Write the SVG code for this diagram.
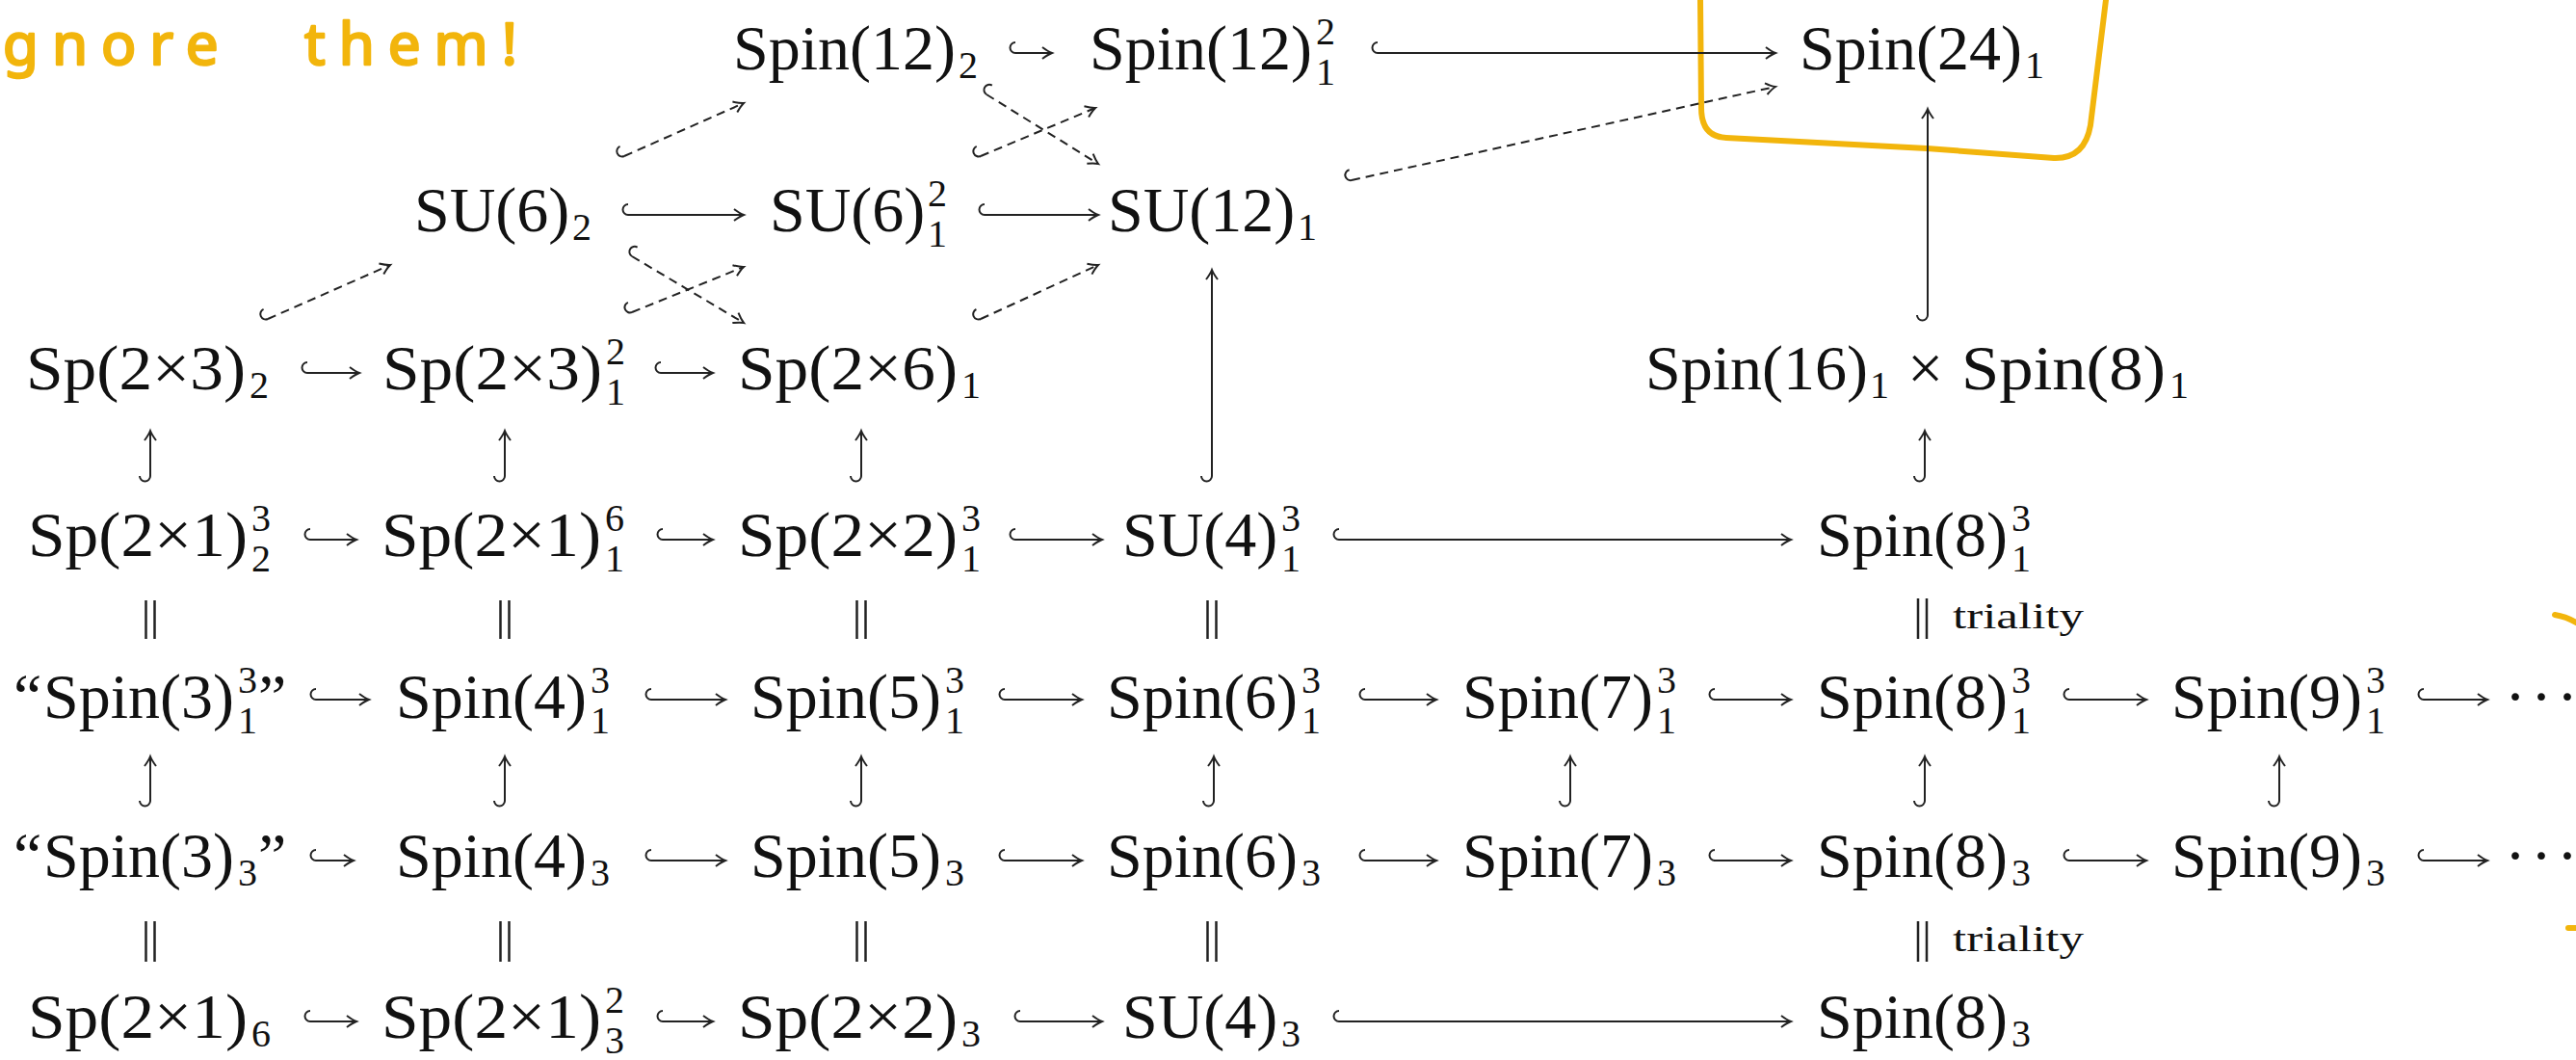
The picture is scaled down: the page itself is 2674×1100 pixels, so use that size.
<svg xmlns="http://www.w3.org/2000/svg" width="2674" height="1100" viewBox="0 0 2674 1100">
<style>
.m{font-family:"Liberation Serif","DejaVu Serif",serif;font-size:66px;fill:#111}
.s{font-family:"Liberation Serif","DejaVu Serif",serif;font-size:40px;fill:#111}
.t{font-family:"Liberation Serif","DejaVu Serif",serif;font-size:38px;fill:#111}
.c{fill:none;stroke:#222;stroke-width:2;marker-start:url(#hk);marker-end:url(#ah)}
.d{stroke-dasharray:9 6}
.eq{fill:none;stroke:#222;stroke-width:2.5}
.hand{fill:none;stroke:#F2B50C;stroke-width:6;stroke-linecap:round;stroke-linejoin:round}
.hw{font-family:"Noto Sans","DejaVu Sans",sans-serif;font-size:60px;fill:#F2B50C;stroke:#F2B50C;stroke-width:2.5;stroke-linejoin:round}
</style>
<defs>
<marker id="hk" markerUnits="userSpaceOnUse" orient="auto" refX="6" refY="0" markerWidth="30" markerHeight="30" overflow="visible">
<path d="M6,-11 A5.5,5.5 0 0 0 6,0" fill="none" stroke="#222" stroke-width="2" stroke-dasharray="none"/>
</marker>
<marker id="ah" markerUnits="userSpaceOnUse" orient="auto" refX="0" refY="0" markerWidth="30" markerHeight="30" overflow="visible">
<path d="M-10,-6 Q-4,-1.5 0,0 Q-4,1.5 -10,6" fill="none" stroke="#222" stroke-width="2" stroke-dasharray="none"/>
</marker>
</defs>
<rect width="2674" height="1100" fill="#fff"/>

<g id="handwriting">
<text class="hw" x="3" y="67" letter-spacing="14">gnore<tspan x="316">them!</tspan></text>
<path class="hand" d="M1765,0 L1766,112 Q1766,142 1792,143 L2000,154 L2132,164 Q2164,165 2170,130 L2186,0"/>
<path class="hand" d="M2652,638 Q2664,640 2674,646"/>
<path class="hand" d="M2666,963 L2674,963"/>
</g>

<g id="connectors">
<!-- row A -->
<path class="c" d="M1054,55 L1092,55"/>
<path class="c" d="M1430,55 L1843,55"/>
<!-- row B -->
<path class="c" d="M652,223 L772,223"/>
<path class="c" d="M1022,223 L1140,223"/>
<!-- row C -->
<path class="c" d="M319,387 L373,387"/>
<path class="c" d="M686,387 L740,387"/>
<!-- row D -->
<path class="c" d="M322,560 L370,560"/>
<path class="c" d="M688,560 L740,560"/>
<path class="c" d="M1054,560 L1144,560"/>
<path class="c" d="M1390,560 L1859,560"/>
<!-- row E -->
<path class="c" d="M328,726 L383,726"/>
<path class="c" d="M676,726 L753,726"/>
<path class="c" d="M1043,726 L1123,726"/>
<path class="c" d="M1417,726 L1491,726"/>
<path class="c" d="M1780,726 L1859,726"/>
<path class="c" d="M2148,726 L2228,726"/>
<path class="c" d="M2516,726 L2582,726"/>
<!-- row F -->
<path class="c" d="M328,893 L367,893"/>
<path class="c" d="M676,893 L753,893"/>
<path class="c" d="M1043,893 L1123,893"/>
<path class="c" d="M1417,893 L1491,893"/>
<path class="c" d="M1780,893 L1859,893"/>
<path class="c" d="M2148,893 L2228,893"/>
<path class="c" d="M2516,893 L2582,893"/>
<!-- row G -->
<path class="c" d="M322,1060 L370,1060"/>
<path class="c" d="M688,1060 L740,1060"/>
<path class="c" d="M1059,1060 L1144,1060"/>
<path class="c" d="M1390,1060 L1859,1060"/>
<!-- vertical C<-D -->
<path class="c" d="M156,494 L156,447"/>
<path class="c" d="M524,494 L524,447"/>
<path class="c" d="M894,494 L894,447"/>
<path class="c" d="M1998,494 L1998,447"/>
<path class="c" d="M1258,494 L1258,280"/>
<path class="c" d="M2001,327 L2001,113"/>
<!-- vertical E<-F -->
<path class="c" d="M156,831 L156,785"/>
<path class="c" d="M524,831 L524,785"/>
<path class="c" d="M894,831 L894,785"/>
<path class="c" d="M1260,831 L1260,785"/>
<path class="c" d="M1630,831 L1630,785"/>
<path class="c" d="M1998,831 L1998,785"/>
<path class="c" d="M2366,831 L2366,785"/>
<!-- diagonal dashed -->
<path class="c d" d="M648,162 L772,107"/>
<path class="c d" d="M278,331 L405,275"/>
<path class="c d" d="M656,266 L772,335"/>
<path class="c d" d="M656,324 L772,277"/>
<path class="c d" d="M1024,98 L1140,170"/>
<path class="c d" d="M1018,162 L1137,112"/>
<path class="c d" d="M1018,331 L1140,275"/>
<path class="c d" d="M1403,187 L1843,90"/>
<!-- equalities -->
<path class="eq" d="M151.5,623 V663 M160.5,623 V663 M519.5,623 V663 M528.5,623 V663 M889.5,623 V663 M898.5,623 V663 M1253.5,623 V663 M1262.5,623 V663 M1991,621 V663 M2000,621 V663"/>
<path class="eq" d="M151.5,956 V998 M160.5,956 V998 M519.5,956 V998 M528.5,956 V998 M889.5,956 V998 M898.5,956 V998 M1253.5,956 V998 M1262.5,956 V998 M1991,956 V998 M2000,956 V998"/>
<text class="t" x="2027" y="652" textLength="136" lengthAdjust="spacingAndGlyphs">triality</text>
<text class="t" x="2027" y="987" textLength="136" lengthAdjust="spacingAndGlyphs">triality</text>
</g>

<!-- Row A -->
<g id="spin12_2"><text class="m" x="761" y="72">Spin(12)</text><text class="s" x="995" y="81">2</text></g>
<g id="spin12_1_2"><text class="m" x="1131" y="72">Spin(12)</text><text class="s" x="1366" y="46">2</text><text class="s" x="1366" y="88">1</text></g>
<g id="spin24_1"><text class="m" x="1868" y="72">Spin(24)</text><text class="s" x="2102" y="81">1</text></g>

<!-- Row B -->
<g id="su6_2"><text class="m" x="430" y="240">SU(6)</text><text class="s" x="594" y="249">2</text></g>
<g id="su6_1_2"><text class="m" x="799" y="240">SU(6)</text><text class="s" x="963" y="214">2</text><text class="s" x="963" y="256">1</text></g>
<g id="su12_1"><text class="m" x="1150" y="240">SU(12)</text><text class="s" x="1347" y="249">1</text></g>

<!-- Row C -->
<g id="sp2x3_2"><text class="m" x="27" y="404" textLength="228" lengthAdjust="spacingAndGlyphs">Sp(2×3)</text><text class="s" x="259" y="413">2</text></g>
<g id="sp2x3_1_2"><text class="m" x="397" y="404" textLength="228" lengthAdjust="spacingAndGlyphs">Sp(2×3)</text><text class="s" x="629" y="378">2</text><text class="s" x="629" y="420">1</text></g>
<g id="sp2x6_1"><text class="m" x="766" y="404" textLength="228" lengthAdjust="spacingAndGlyphs">Sp(2×6)</text><text class="s" x="998" y="413">1</text></g>
<g id="spin16xspin8"><text class="m" x="1708" y="404">Spin(16)</text><text class="s" x="1941" y="413">1</text><text class="m" x="1980" y="404">×</text><text class="m" x="2036" y="404" textLength="212" lengthAdjust="spacingAndGlyphs">Spin(8)</text><text class="s" x="2252" y="413">1</text></g>

<!-- Row D -->
<g id="sp2x1_2_3"><text class="m" x="29" y="577" textLength="228" lengthAdjust="spacingAndGlyphs">Sp(2×1)</text><text class="s" x="261" y="551">3</text><text class="s" x="261" y="593">2</text></g>
<g id="sp2x1_1_6"><text class="m" x="396" y="577" textLength="228" lengthAdjust="spacingAndGlyphs">Sp(2×1)</text><text class="s" x="628" y="551">6</text><text class="s" x="628" y="593">1</text></g>
<g id="sp2x2_1_3"><text class="m" x="766" y="577" textLength="228" lengthAdjust="spacingAndGlyphs">Sp(2×2)</text><text class="s" x="998" y="551">3</text><text class="s" x="998" y="593">1</text></g>
<g id="su4_1_3"><text class="m" x="1165" y="577">SU(4)</text><text class="s" x="1330" y="551">3</text><text class="s" x="1330" y="593">1</text></g>
<g id="spin8_1_3_top"><text class="m" x="1886" y="577">Spin(8)</text><text class="s" x="2088" y="551">3</text><text class="s" x="2088" y="593">1</text></g>

<!-- Row E -->
<g id="spin3_1_3"><text class="m" x="14" y="745">“</text><text class="m" x="45" y="745">Spin(3)</text><text class="s" x="247" y="719">3</text><text class="s" x="247" y="761">1</text><text class="m" x="268" y="745">”</text></g>
<g id="spin4_1_3"><text class="m" x="411" y="745">Spin(4)</text><text class="s" x="613" y="719">3</text><text class="s" x="613" y="761">1</text></g>
<g id="spin5_1_3"><text class="m" x="779" y="745">Spin(5)</text><text class="s" x="981" y="719">3</text><text class="s" x="981" y="761">1</text></g>
<g id="spin6_1_3"><text class="m" x="1149" y="745">Spin(6)</text><text class="s" x="1351" y="719">3</text><text class="s" x="1351" y="761">1</text></g>
<g id="spin7_1_3"><text class="m" x="1518" y="745">Spin(7)</text><text class="s" x="1720" y="719">3</text><text class="s" x="1720" y="761">1</text></g>
<g id="spin8_1_3"><text class="m" x="1886" y="745">Spin(8)</text><text class="s" x="2088" y="719">3</text><text class="s" x="2088" y="761">1</text></g>
<g id="spin9_1_3"><text class="m" x="2254" y="745">Spin(9)</text><text class="s" x="2456" y="719">3</text><text class="s" x="2456" y="761">1</text></g>
<g id="dots_E"><text class="m" x="2600 2627 2654" y="745">···</text></g>

<!-- Row F -->
<g id="spin3_3"><text class="m" x="14" y="910">“</text><text class="m" x="45" y="910">Spin(3)</text><text class="s" x="247" y="919">3</text><text class="m" x="268" y="910">”</text></g>
<g id="spin4_3"><text class="m" x="411" y="910">Spin(4)</text><text class="s" x="613" y="919">3</text></g>
<g id="spin5_3"><text class="m" x="779" y="910">Spin(5)</text><text class="s" x="981" y="919">3</text></g>
<g id="spin6_3"><text class="m" x="1149" y="910">Spin(6)</text><text class="s" x="1351" y="919">3</text></g>
<g id="spin7_3"><text class="m" x="1518" y="910">Spin(7)</text><text class="s" x="1720" y="919">3</text></g>
<g id="spin8_3"><text class="m" x="1886" y="910">Spin(8)</text><text class="s" x="2088" y="919">3</text></g>
<g id="spin9_3"><text class="m" x="2254" y="910">Spin(9)</text><text class="s" x="2456" y="919">3</text></g>
<g id="dots_F"><text class="m" x="2600 2627 2654" y="910">···</text></g>

<!-- Row G -->
<g id="sp2x1_6"><text class="m" x="29" y="1077" textLength="228" lengthAdjust="spacingAndGlyphs">Sp(2×1)</text><text class="s" x="261" y="1086">6</text></g>
<g id="sp2x1_3_2"><text class="m" x="396" y="1077" textLength="228" lengthAdjust="spacingAndGlyphs">Sp(2×1)</text><text class="s" x="628" y="1051">2</text><text class="s" x="628" y="1093">3</text></g>
<g id="sp2x2_3"><text class="m" x="766" y="1077" textLength="228" lengthAdjust="spacingAndGlyphs">Sp(2×2)</text><text class="s" x="998" y="1086">3</text></g>
<g id="su4_3"><text class="m" x="1165" y="1077">SU(4)</text><text class="s" x="1330" y="1086">3</text></g>
<g id="spin8_3_bottom"><text class="m" x="1886" y="1077">Spin(8)</text><text class="s" x="2088" y="1086">3</text></g>
</svg>
